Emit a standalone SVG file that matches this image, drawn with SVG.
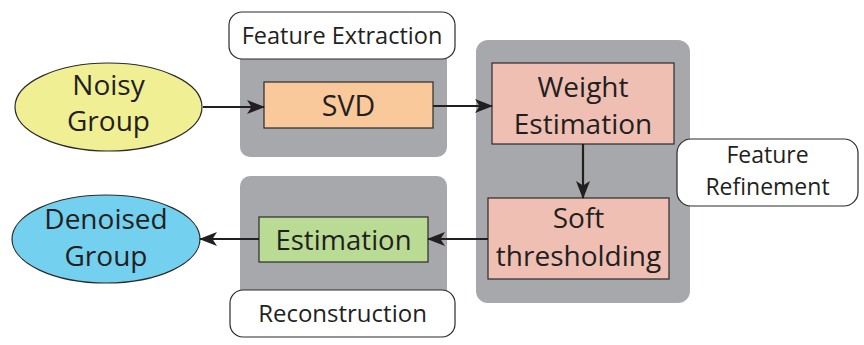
<svg xmlns="http://www.w3.org/2000/svg" width="864" height="345" viewBox="0 0 864 345">
  <style>
    .panel { fill: #a7a8ac; }
    .box { stroke: #2b2b2b; stroke-width: 1.2; }
    .label { fill: #ffffff; stroke: #2b2b2b; stroke-width: 1.2; }
    .t { font-family: "Open Sans", "Noto Sans", sans-serif; fill: #231f20; text-anchor: middle; }
    .conn { stroke: #231f20; stroke-width: 2.2; fill: none; marker-end: url(#arrow); }
  </style>
  <defs>
    <marker id="arrow" viewBox="0 0 18 14" markerWidth="18" markerHeight="14" refX="17" refY="7" orient="auto" markerUnits="userSpaceOnUse">
      <path d="M0,0 L18,7 L0,14 L4.5,7 Z" fill="#231f20"/>
    </marker>
  </defs>

  <rect width="864" height="345" fill="#ffffff"/>

  <!-- stage panels -->
  <g id="feature-extraction">
    <rect class="panel" x="240" y="40" width="207" height="117" rx="10"/>
    <rect class="label" x="229" y="12" width="226" height="47" rx="13"/>
    <text class="t" x="342" y="44" font-size="23.5">Feature Extraction</text>
  </g>
  <g id="feature-refinement">
    <rect class="panel" x="476" y="40" width="214" height="263" rx="12"/>
    <rect class="label" x="677" y="139" width="181" height="67" rx="14"/>
    <text class="t" x="767.5" y="163" font-size="23">Feature</text>
    <text class="t" x="767.5" y="194.5" font-size="23">Refinement</text>
  </g>
  <g id="reconstruction">
    <rect class="panel" x="240" y="176" width="207" height="130" rx="10"/>
    <rect class="label" x="230" y="290" width="225" height="47" rx="13"/>
    <text class="t" x="342.5" y="322" font-size="24">Reconstruction</text>
  </g>

  <!-- nodes -->
  <g id="noisy-group">
    <ellipse class="box" cx="108.5" cy="107" rx="93.5" ry="44" fill="#f1ef94"/>
    <text class="t" x="108.5" y="95" font-size="28">Noisy</text>
    <text class="t" x="108.5" y="131" font-size="28">Group</text>
  </g>
  <g id="svd">
    <rect class="box" x="264" y="82" width="169" height="46" fill="#f9c89b"/>
    <text class="t" x="348.5" y="115.5" font-size="28.5">SVD</text>
  </g>
  <g id="weight-estimation">
    <rect class="box" x="492" y="63" width="182" height="81" fill="#f0bfb4"/>
    <text class="t" x="583" y="97" font-size="28">Weight</text>
    <text class="t" x="583" y="134" font-size="28">Estimation</text>
  </g>
  <g id="soft-thresholding">
    <rect class="box" x="488" y="198" width="181" height="81" fill="#f0bfb4"/>
    <text class="t" x="578.5" y="228" font-size="28">Soft</text>
    <text class="t" x="578.5" y="266" font-size="28">thresholding</text>
  </g>
  <g id="estimation">
    <rect class="box" x="259" y="217" width="169" height="45" fill="#b9db93"/>
    <text class="t" x="343.5" y="250" font-size="27.5">Estimation</text>
  </g>
  <g id="denoised-group">
    <ellipse class="box" cx="106" cy="239" rx="94" ry="44" fill="#73d0ee"/>
    <text class="t" x="106" y="229" font-size="28">Denoised</text>
    <text class="t" x="106" y="266" font-size="28">Group</text>
  </g>

  <!-- connectors -->
  <g id="connectors">
    <line class="conn" x1="203" y1="107" x2="264" y2="107"/>
    <line class="conn" x1="433" y1="106" x2="492" y2="106"/>
    <line class="conn" x1="583" y1="144" x2="583" y2="198"/>
    <line class="conn" x1="488" y1="239" x2="428" y2="239"/>
    <line class="conn" x1="259" y1="239" x2="200" y2="239"/>
  </g>
</svg>
